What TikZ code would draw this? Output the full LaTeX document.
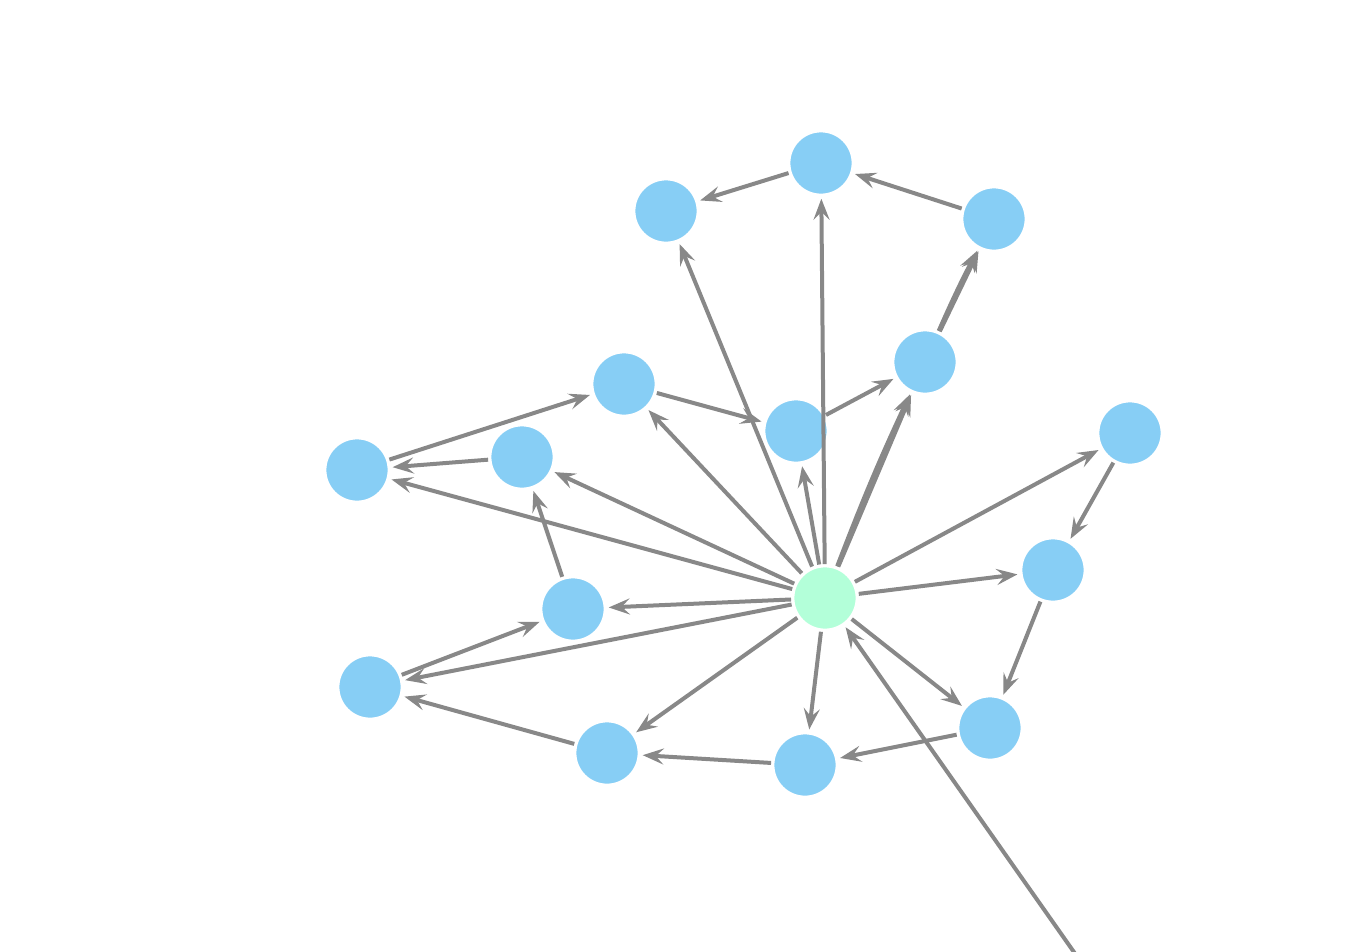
\documentclass[tikz,border=0pt]{standalone}
\usepackage{xcolor}
\usepackage{tikz}
\usetikzlibrary{arrows.meta}
\definecolor{skyb}{RGB}{135,206,245}
\definecolor{mint}{RGB}{179,255,217}
\definecolor{edgeg}{RGB}{136,136,136}
\tikzset{
  vtx/.style={circle, fill=skyb, draw=white, line width=1pt,
              minimum size=1.26cm, inner sep=0pt, outer sep=0.05cm},
  hubv/.style={vtx, fill=mint},
  arr/.style={-{Stealth[length=0.42cm, width=0.32cm, inset=0.16cm]},
              draw=edgeg, line width=0.08cm, shorten >=1pt},
}
\begin{document}
\begin{tikzpicture}[x=0.02cm, y=-0.02cm]
  \useasboundingbox (0,0) rectangle (1353,951);
  \node[hubv] (hub)  at (825,598)  {};
  \node[vtx]  (top)  at (821,163)  {};
  \node[vtx]  (tl)   at (666,211)  {};
  \node[vtx]  (tr)   at (994,219)  {};
  \node[vtx]  (mr)   at (925,362)  {};
  \node[vtx]  (ml)   at (624,384)  {};
  \node[vtx]  (mid)  at (796,431)  {};
  \node[vtx]  (gl)   at (522,457)  {};
  \node[vtx]  (far)  at (357,470)  {};
  \node[vtx]  (ri)   at (1130,433) {};
  \node[vtx]  (rj)   at (1053,570) {};
  \node[vtx]  (kl)   at (573,609)  {};
  \node[vtx]  (ll)   at (370,687)  {};
  \node[vtx]  (bl)   at (607,753)  {};
  \node[vtx]  (bm)   at (805,765)  {};
  \node[vtx]  (br)   at (990,728)  {};
  \coordinate (ext) at (1076,955);
  % spokes out of the hub
  \draw[arr](hub)--(top);
  \draw[arr](hub)--(tl);
  \draw[arr](hub)--(mid);
  \draw[arr](hub)--(mr);
  \draw[arr](hub) to[bend left=2] (mr);
  \draw[arr](hub)--(ml);
  \draw[arr](hub)--(gl);
  \draw[arr](hub)--(far);
  \draw[arr](hub)--(kl);
  \draw[arr](hub)--(ll);
  \draw[arr](hub)--(bl);
  \draw[arr](hub)--(bm);
  \draw[arr](hub)--(br);
  \draw[arr](hub)--(rj);
  \draw[arr](hub)--(ri);
  \draw[arr](ext)--(hub);
  % outer ring
  \draw[arr](top)--(tl);
  \draw[arr](tr)--(top);
  \draw[arr](mr)--(tr);
  \draw[arr](mr) to[bend left=2] (tr);
  \draw[arr](mid)--(mr);
  \draw[arr](ml)--(mid);
  \draw[arr](far)--(ml);
  \draw[arr](gl)--(far);
  \draw[arr](kl)--(gl);
  \draw[arr](ll)--(kl);
  \draw[arr](bl)--(ll);
  \draw[arr](bm)--(bl);
  \draw[arr](br)--(bm);
  \draw[arr](rj)--(br);
  \draw[arr](ri)--(rj);
\end{tikzpicture}
\end{document}
